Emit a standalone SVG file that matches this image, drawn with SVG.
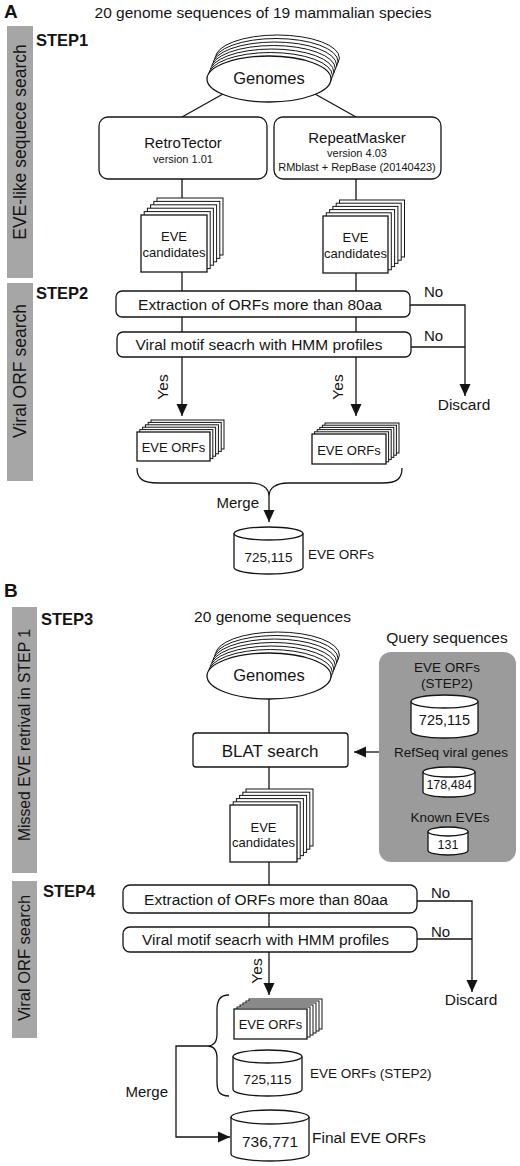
<svg xmlns="http://www.w3.org/2000/svg" xmlns:xlink="http://www.w3.org/1999/xlink" width="520" height="1166" viewBox="0 0 520 1166">
<style>
text{font-family:"Liberation Sans",Arial,sans-serif;fill:#141414}
.b{font-weight:bold}
.m{text-anchor:middle}
.e{text-anchor:end}
.bar{fill:#a6a6a6}
.ln{fill:none;stroke:#141414;stroke-width:1.3}
.nd{fill:#fff;stroke:#141414;stroke-width:1.3}
.pg{fill:#fff;stroke:#141414;stroke-width:1}
.ar{fill:none;stroke:#141414;stroke-width:1.3;marker-end:url(#ah)}
</style>
<defs>
<marker id="ah" viewBox="0 0 12 12" refX="12" refY="6" markerWidth="12" markerHeight="12" markerUnits="userSpaceOnUse" orient="auto"><path d="M0,0.5 L12,6 L0,11.5 z" fill="#141414"/></marker>
</defs>
<rect width="520" height="1166" fill="#fff"/>

<!-- Panel labels and titles -->
<text x="4" y="18" class="b" font-size="19">A</text>
<text x="263" y="17.5" class="m" font-size="15.5">20 genome sequences of 19 mammalian species</text>
<text x="4" y="597" class="b" font-size="19">B</text>
<text x="272.5" y="622" class="m" font-size="15.5">20 genome sequences</text>

<!-- Side bars -->
<g id="bar-step1">
<rect class="bar" x="7" y="26" width="26" height="252"/>
<text transform="translate(25.5,142) rotate(-90)" class="m" font-size="17.5">EVE-like sequece search</text>
<text x="36" y="46" class="b" font-size="16.5">STEP1</text>
</g>
<g id="bar-step2">
<rect class="bar" x="7" y="283" width="26" height="198"/>
<text transform="translate(26,371) rotate(-90)" class="m" font-size="17.5">Viral ORF search</text>
<text x="36" y="299" class="b" font-size="16.5">STEP2</text>
</g>
<g id="bar-step3">
<rect class="bar" x="12" y="607" width="25" height="266"/>
<text transform="translate(30,735) rotate(-90)" class="m" font-size="16" textLength="212" lengthAdjust="spacingAndGlyphs">Missed EVE retrival in STEP 1</text>
<text x="41" y="625" class="b" font-size="16.5">STEP3</text>
</g>
<g id="bar-step4">
<rect class="bar" x="12" y="881" width="25" height="157"/>
<text transform="translate(30,958) rotate(-90)" class="m" font-size="16.5">Viral ORF search</text>
<text x="43" y="897" class="b" font-size="16.5">STEP4</text>
</g>

<!-- Connectors -->
<g id="connectors">
<path class="ln" d="M223,94 L182,117 M315,94 L356,117"/>
<path class="ln" d="M182,179 V205 M356,179 V205"/>
<path class="ln" d="M182,272 V291 M356,273 V291"/>
<path class="ln" d="M182,317 V332 M356,317 V332"/>
<path class="ar" d="M410,305 H465 V396"/>
<path class="ln" d="M411,347 H465"/>
<path class="ar" d="M182,357 V416"/>
<path class="ar" d="M356,357 V416"/>
<path class="ln" d="M137,468 C137,479 143,483 158,483 L250,483 C262,483 269,488 269,496 C269,488 276,483 288,483 L382,483 C397,483 402,479 402,468"/>
<path class="ar" d="M269,496 V522"/>

<path class="ln" d="M269,699 V733"/>
<path class="ar" d="M383,752 H354"/>
<path class="ln" d="M269,767 V800"/>
<path class="ln" d="M269,862 V885"/>
<path class="ln" d="M269,913 V927"/>
<path class="ar" d="M417,901 H472 V992"/>
<path class="ln" d="M417,939 H472"/>
<path class="ar" d="M269,952 V995"/>
<path class="ln" d="M229,995 C220,995 217,1000 217,1010 L217,1034 C217,1042 213,1046 207,1046 C213,1046 217,1050 217,1058 L217,1082 C217,1092 220,1096 229,1096"/>
<path class="ar" d="M207,1046 H176 V1137 H230"/>

<text x="424" y="297" font-size="15">No</text>
<text x="424" y="341" font-size="15">No</text>
<text transform="translate(168,387) rotate(-90)" class="m" font-size="15.5">Yes</text>
<text transform="translate(343,387) rotate(-90)" class="m" font-size="15.5">Yes</text>
<text x="259" y="508" class="e" font-size="15">Merge</text>
<text x="431" y="898" font-size="15">No</text>
<text x="431" y="937" font-size="15">No</text>
<text transform="translate(262,971) rotate(-90)" class="m" font-size="15.5">Yes</text>
<text x="168" y="1097" class="e" font-size="15">Merge</text>
</g>

<!-- STEP1 nodes -->
<g id="genomes-a">
<ellipse class="pg" cx="277.4" cy="58" rx="62" ry="23"/>
<ellipse class="pg" cx="276" cy="61.5" rx="62" ry="23"/>
<ellipse class="pg" cx="274.6" cy="65" rx="62" ry="23"/>
<ellipse class="pg" cx="273.2" cy="68.5" rx="62" ry="23"/>
<ellipse class="pg" cx="271.8" cy="72" rx="62" ry="23"/>
<ellipse class="pg" cx="270.4" cy="75.5" rx="62" ry="23"/>
<ellipse class="nd" cx="269" cy="79" rx="62" ry="23"/>
<text x="269" y="84" class="m" font-size="16.5">Genomes</text>
</g>
<g id="retrotector">
<rect class="nd" x="99" y="117" width="168" height="62" rx="9"/>
<text x="183" y="148" class="m" font-size="15">RetroTector</text>
<text x="183" y="163" class="m" font-size="11">version 1.01</text>
</g>
<g id="repeatmasker">
<rect class="nd" x="274" y="117" width="167" height="62" rx="9"/>
<text x="357" y="143" class="m" font-size="15">RepeatMasker</text>
<text x="357" y="157" class="m" font-size="11">version 4.03</text>
<text x="357" y="171" class="m" font-size="11">RMblast + RepBase (20140423)</text>
</g>
<g id="candidates-a1">
<rect class="pg" x="157" y="198" width="66" height="57"/>
<rect class="pg" x="153.8" y="201.4" width="66" height="57"/>
<rect class="pg" x="150.6" y="204.8" width="66" height="57"/>
<rect class="pg" x="147.4" y="208.2" width="66" height="57"/>
<rect class="pg" x="144.2" y="211.6" width="66" height="57"/>
<rect class="nd" x="141" y="215" width="66" height="57"/>
<text x="174" y="241" class="m" font-size="13">EVE</text>
<text x="174" y="257" class="m" font-size="13">candidates</text>
</g>
<g id="candidates-a2">
<rect class="pg" x="339.5" y="200" width="65" height="57"/>
<rect class="pg" x="336.2" y="203.2" width="65" height="57"/>
<rect class="pg" x="332.9" y="206.4" width="65" height="57"/>
<rect class="pg" x="329.6" y="209.6" width="65" height="57"/>
<rect class="pg" x="326.3" y="212.8" width="65" height="57"/>
<rect class="nd" x="323" y="216" width="65" height="57"/>
<text x="355.5" y="242" class="m" font-size="13">EVE</text>
<text x="355.5" y="258" class="m" font-size="13">candidates</text>
</g>

<!-- STEP2 nodes -->
<g id="extract-a">
<rect class="nd" x="116" y="291" width="294" height="26" rx="6"/>
<text x="260" y="310" class="m" font-size="15.5">Extraction of ORFs more than 80aa</text>
</g>
<g id="motif-a">
<rect class="nd" x="117" y="332" width="294" height="25" rx="6"/>
<text x="259" y="350" class="m" font-size="15.5">Viral motif seacrh with HMM profiles</text>
</g>
<g id="discard-a">
<text x="464" y="410" class="m" font-size="15.5">Discard</text>
</g>
<g id="orfs-a1">
<rect class="pg" x="151" y="420" width="73" height="29"/>
<rect class="pg" x="148.2" y="422.4" width="73" height="29"/>
<rect class="pg" x="145.4" y="424.8" width="73" height="29"/>
<rect class="pg" x="142.6" y="427.2" width="73" height="29"/>
<rect class="pg" x="139.8" y="429.6" width="73" height="29"/>
<rect class="nd" x="137" y="432" width="73" height="29"/>
<text x="173.5" y="452" class="m" font-size="13">EVE ORFs</text>
</g>
<g id="orfs-a2">
<rect class="pg" x="325" y="423" width="74" height="30"/>
<rect class="pg" x="322.4" y="425.2" width="74" height="30"/>
<rect class="pg" x="319.8" y="427.4" width="74" height="30"/>
<rect class="pg" x="317.2" y="429.6" width="74" height="30"/>
<rect class="pg" x="314.6" y="431.8" width="74" height="30"/>
<rect class="nd" x="312" y="434" width="74" height="30"/>
<text x="349" y="455" class="m" font-size="13">EVE ORFs</text>
</g>
<g id="db-a">
<path class="nd" d="M234,533.5 A34.5,6.5 0 0 1 303,533.5 V567.5 A34.5,6.5 0 0 1 234,567.5 Z"/>
<path class="ln" d="M234,533.5 A34.5,6.5 0 0 0 303,533.5"/>
<text x="268.5" y="562" class="m" font-size="13.5">725,115</text>
<text x="308" y="559" font-size="13.5">EVE ORFs</text>
</g>

<!-- STEP3 nodes -->
<g id="genomes-b">
<ellipse class="pg" cx="277.4" cy="655" rx="62" ry="23"/>
<ellipse class="pg" cx="276" cy="658.5" rx="62" ry="23"/>
<ellipse class="pg" cx="274.6" cy="662" rx="62" ry="23"/>
<ellipse class="pg" cx="273.2" cy="665.5" rx="62" ry="23"/>
<ellipse class="pg" cx="271.8" cy="669" rx="62" ry="23"/>
<ellipse class="pg" cx="270.4" cy="672.5" rx="62" ry="23"/>
<ellipse class="nd" cx="269" cy="676" rx="62" ry="23"/>
<text x="269" y="681" class="m" font-size="16.5">Genomes</text>
</g>
<g id="blat">
<rect class="nd" x="193" y="733" width="155" height="34" rx="3"/>
<text x="270" y="757" class="m" font-size="17">BLAT search</text>
</g>
<g id="query">
<text x="447" y="643" class="m" font-size="15.5">Query sequences</text>
<rect x="379" y="652" width="137" height="210" rx="12" fill="#9b9b9b"/>
<text x="447" y="672" class="m" font-size="13.5">EVE ORFs</text>
<text x="447" y="688" class="m" font-size="13.5">(STEP2)</text>
<path class="nd" d="M411,701.5 A33.5,6.5 0 0 1 478,701.5 V731.5 A33.5,6.5 0 0 1 411,731.5 Z"/>
<path class="ln" d="M411,701.5 A33.5,6.5 0 0 0 478,701.5"/>
<text x="444.5" y="725" class="m" font-size="14.5">725,115</text>
<text x="451" y="757" class="m" font-size="13.5">RefSeq viral genes</text>
<path class="nd" d="M423,772 A26,5 0 0 1 475,772 V792 A26,5 0 0 1 423,792 Z"/>
<path class="ln" d="M423,772 A26,5 0 0 0 475,772"/>
<text x="449" y="789" class="m" font-size="12.5">178,484</text>
<text x="450" y="822" class="m" font-size="13.5">Known EVEs</text>
<path class="nd" d="M428,831.5 A20,4.5 0 0 1 468,831.5 V850.5 A20,4.5 0 0 1 428,850.5 Z"/>
<path class="ln" d="M428,831.5 A20,4.5 0 0 0 468,831.5"/>
<text x="448" y="849" class="m" font-size="12.5">131</text>
</g>
<g id="candidates-b">
<rect class="pg" x="246" y="789" width="67" height="57"/>
<rect class="pg" x="242.8" y="792.2" width="67" height="57"/>
<rect class="pg" x="239.6" y="795.4" width="67" height="57"/>
<rect class="pg" x="236.4" y="798.6" width="67" height="57"/>
<rect class="pg" x="233.2" y="801.8" width="67" height="57"/>
<rect class="nd" x="230" y="805" width="67" height="57"/>
<text x="263.5" y="832" class="m" font-size="13">EVE</text>
<text x="263.5" y="847" class="m" font-size="13">candidates</text>
</g>

<!-- STEP4 nodes -->
<g id="extract-b">
<rect class="nd" x="123" y="885" width="294" height="28" rx="7"/>
<text x="266" y="905" class="m" font-size="15.5">Extraction of ORFs more than 80aa</text>
</g>
<g id="motif-b">
<rect class="nd" x="123" y="927" width="294" height="25" rx="7"/>
<text x="265.5" y="945" class="m" font-size="15.5">Viral motif seacrh with HMM profiles</text>
</g>
<g id="discard-b">
<text x="471" y="1005" class="m" font-size="15.5">Discard</text>
</g>
<g id="orfs-b">
<rect class="pg" x="249" y="999" width="73" height="30"/>
<rect class="pg" x="246" y="1001" width="73" height="30"/>
<rect class="pg" x="243" y="1003" width="73" height="30"/>
<rect class="pg" x="240" y="1005" width="73" height="30"/>
<rect class="pg" x="237" y="1007" width="73" height="30"/>
<rect class="nd" x="234" y="1009" width="73" height="30"/>
<text x="270.5" y="1029" class="m" font-size="13">EVE ORFs</text>
</g>
<g id="db-b">
<path class="nd" d="M233,1056.5 A34.5,6.5 0 0 1 302,1056.5 V1089.5 A34.5,6.5 0 0 1 233,1089.5 Z"/>
<path class="ln" d="M233,1056.5 A34.5,6.5 0 0 0 302,1056.5"/>
<text x="267.5" y="1084" class="m" font-size="13.5">725,115</text>
<text x="310" y="1078" font-size="13.5">EVE ORFs (STEP2)</text>
</g>
<g id="db-final">
<path class="nd" d="M231,1117 A39,7 0 0 1 309,1117 V1154 A39,7 0 0 1 231,1154 Z"/>
<path class="ln" d="M231,1117 A39,7 0 0 0 309,1117"/>
<text x="270" y="1147" class="m" font-size="15.5">736,771</text>
<text x="312" y="1143" font-size="15.5">Final EVE ORFs</text>
</g>
</svg>
